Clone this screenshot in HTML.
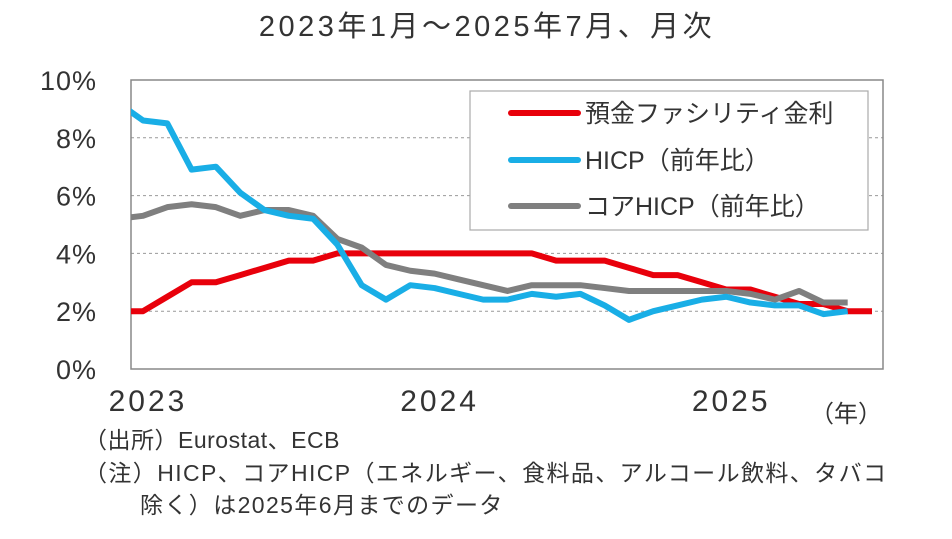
<!DOCTYPE html>
<html><head><meta charset="utf-8"><style>
body{margin:0;background:#fff;}
svg text{font-family:"Liberation Sans","Noto Sans CJK JP",sans-serif;fill:#333;}
</style></head><body>
<svg width="952" height="534">
<text x="487" y="36" font-size="29" letter-spacing="3.5" text-anchor="middle">2023年1月～2025年7月、月次</text>
<g id="grid"></g>
<rect x="131" y="80" width="752" height="289" fill="none" stroke="#888" stroke-width="1.5"/>
<g id="yticks"></g>
<g id="xticks"></g>
<defs><clipPath id="clip"><rect x="131" y="78" width="760" height="292"/></clipPath></defs>
<g id="series" clip-path="url(#clip)"></g>
<g>
<rect x="470" y="91" width="398" height="139" fill="#fff" stroke="#aaa" stroke-width="1.2"/>
<line x1="511" y1="113" x2="578" y2="113" stroke="#e8000b" stroke-width="6" stroke-linecap="round"/>
<text x="585" y="122" font-size="25">預金ファシリティ金利</text>
<line x1="511" y1="160" x2="578" y2="160" stroke="#19aee6" stroke-width="6" stroke-linecap="round"/>
<text x="585" y="169" font-size="25">HICP（前年比）</text>
<line x1="511" y1="206" x2="578" y2="206" stroke="#7f7f7f" stroke-width="6" stroke-linecap="round"/>
<text x="585" y="215" font-size="25">コアHICP（前年比）</text>
</g>
<text x="810" y="422" font-size="24">（年）</text>
<text x="84" y="448" font-size="23" letter-spacing="0.5">（出所）Eurostat、ECB</text>
<text x="84" y="481" font-size="23" letter-spacing="1.4">（注）HICP、コアHICP（エネルギー、食料品、アルコール飲料、タバコ</text>
<text x="140" y="513" font-size="23" letter-spacing="1.4">除く）は2025年6月までのデータ</text>
</svg>
<script>
const yTicks=[0,2,4,6,8,10];
const yearLabels=["2023","2024","2025"];
const yearIndex=[1,13,25];
// monthly from Dec 2022 (index 0) to Jul 2025 (index 31)
const deposit=[2.0,2.0,2.5,3.0,3.0,3.25,3.5,3.75,3.75,4.0,4.0,4.0,4.0,4.0,4.0,4.0,4.0,4.0,3.75,3.75,3.75,3.5,3.25,3.25,3.0,2.75,2.75,2.5,2.25,2.25,2.0,2.0];
const hicp=[9.2,8.6,8.5,6.9,7.0,6.1,5.5,5.3,5.2,4.3,2.9,2.4,2.9,2.8,2.6,2.4,2.4,2.6,2.5,2.6,2.2,1.7,2.0,2.2,2.4,2.5,2.3,2.2,2.2,1.9,2.0];
const core=[5.2,5.3,5.6,5.7,5.6,5.3,5.5,5.5,5.3,4.5,4.2,3.6,3.4,3.3,3.1,2.9,2.7,2.9,2.9,2.9,2.8,2.7,2.7,2.7,2.7,2.7,2.6,2.4,2.7,2.3,2.3];
const NS="http://www.w3.org/2000/svg";
const x=i=>118.7+i*24.3;
const y=v=>369-v*28.9;
function mk(t,a,p){const e=document.createElementNS(NS,t);for(const k in a)e.setAttribute(k,a[k]);p.appendChild(e);return e;}
const grid=document.getElementById('grid'),yt=document.getElementById('yticks'),xt=document.getElementById('xticks'),se=document.getElementById('series');
yTicks.forEach(v=>{
 if(v>0){const l=mk('line',{x1:131,x2:883,y1:y(v),y2:y(v),stroke:'#999','stroke-dasharray':'3,3','stroke-width':1},grid);
 
 }
 const t=mk('text',{x:97,y:y(v)+10,'font-size':27,'letter-spacing':1,'text-anchor':'end'},yt);t.textContent=v+'%';
 
 
});
yearLabels.forEach((s,k)=>{const t=mk('text',{x:x(yearIndex[k])+5,y:411,'font-size':30,'letter-spacing':3,'text-anchor':'middle'},xt);t.textContent=s;
 
 });
function line(d,c,n){const p=mk('polyline',{points:d.map((v,i)=>x(i)+','+y(v)).join(' '),fill:'none',stroke:c,'stroke-width':6,'stroke-linejoin':'round'},se);
 
 }
line(deposit,'#e8000b','deposit-rate-line');
line(core,'#7f7f7f','core-hicp-line');
line(hicp,'#19aee6','hicp-line');
</script>
</body></html>
